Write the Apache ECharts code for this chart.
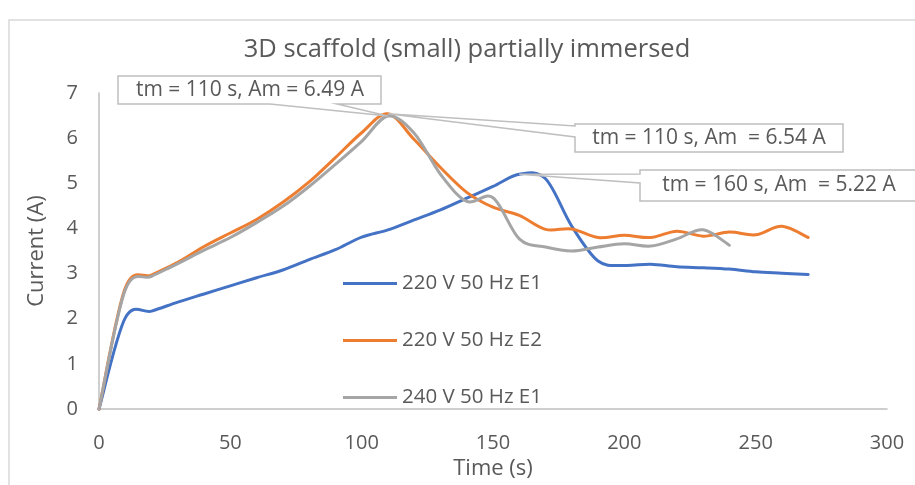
<!DOCTYPE html>
<html><head><meta charset="utf-8">
<script src="https://cdn.jsdelivr.net/npm/echarts@6/dist/echarts.min.js"></script>
<style>html,body{margin:0;padding:0;background:#fff}#c{width:915px;height:485px}</style>
</head><body><div id="c"></div>
<script>
const times = [0,10,20,30,40,50,60,70,80,90,100,110,120,130,140,150,160,170,180,190,200,210,220,230,240,250,260,270];
const seriesNames = ['220 V 50 Hz E1','220 V 50 Hz E2','240 V 50 Hz E1'];
const v220E1 = [0,2.02,2.17,2.37,2.55,2.73,2.91,3.08,3.31,3.53,3.81,3.97,4.19,4.41,4.67,4.93,5.2,5.1,4.05,3.28,3.18,3.21,3.15,3.13,3.1,3.04,3.01,2.98];
const v220E2 = [0,2.68,2.97,3.25,3.6,3.9,4.2,4.58,5.03,5.57,6.12,6.54,5.97,5.35,4.8,4.47,4.29,3.98,3.99,3.8,3.85,3.8,3.94,3.83,3.92,3.86,4.05,3.8];
const v240E1 = [0,2.64,2.94,3.22,3.52,3.8,4.13,4.49,4.93,5.42,5.93,6.49,6.11,5.2,4.6,4.68,3.77,3.59,3.5,3.59,3.66,3.61,3.77,3.97,3.63];
const colors = ['#4472C4','#ED7D31','#A5A5A5'];
const xTicks = {min:0,max:300,interval:50};
const yTicks = {min:0,max:7,interval:1};
const callouts = [
  {text:'tm = 110 s, Am = 6.49 A', series:2, t:110},
  {text:'tm = 110 s, Am  = 6.54 A', series:1, t:110},
  {text:'tm = 160 s, Am  = 5.22 A', series:0, t:160}
];

const FONT = '"Open Sans", "Noto Sans", sans-serif';
const TXT = '#595959';
const allVals = [v220E1, v220E2, v240E1];
const pairs = v => v.map((y,i)=>[times[i], y]);

// smooth curve (Catmull-Rom as bezier), points mapped through the axes via api.coord
function makeRender(vals, color) {
  return function (params, api) {
    if (params.dataIndex !== 0) return null;
    const p = vals.map((y,i)=>api.coord([times[i], y]));
    let d = 'M' + p[0][0] + ' ' + p[0][1];
    for (let i = 0; i < p.length - 1; i++) {
      const p0 = p[Math.max(i-1,0)], p1 = p[i], p2 = p[i+1], p3 = p[Math.min(i+2,p.length-1)];
      const c1 = [p1[0] + (p2[0]-p0[0])/6, p1[1] + (p2[1]-p0[1])/6];
      const c2 = [p2[0] - (p3[0]-p1[0])/6, p2[1] - (p3[1]-p1[1])/6];
      d += ' C' + c1[0] + ' ' + c1[1] + ' ' + c2[0] + ' ' + c2[1] + ' ' + p2[0] + ' ' + p2[1];
    }
    return {type:'path', shape:{pathData:d}, style:{fill:null, stroke:color, lineWidth:3, lineJoin:'round', lineCap:'round'}};
  };
}

const chart = echarts.init(document.getElementById('c'));
const option = {
  animation:false,
  backgroundColor:'#fff',
  grid:{left:99, right:28, top:93, bottom:72, containLabel:false},
  legend:{orient:'vertical', left:338, top:268, itemWidth:54, itemHeight:3, itemGap:36, icon:'rect',
    textStyle:{fontFamily:FONT, fontSize:20.5, color:TXT, lineHeight:20},
    data:seriesNames},
  xAxis:{type:'value', min:xTicks.min, max:xTicks.max, interval:xTicks.interval,
    name:'Time (s)', nameLocation:'middle', nameGap:44,
    nameTextStyle:{fontFamily:FONT, fontSize:22, color:TXT},
    axisLine:{show:true, lineStyle:{color:'#BFBFBF', width:1.5}},
    axisTick:{show:false}, splitLine:{show:false},
    axisLabel:{fontFamily:FONT, fontSize:20, color:TXT, margin:24}},
  yAxis:{type:'value', min:yTicks.min, max:yTicks.max, interval:yTicks.interval,
    name:'Current (A)', nameLocation:'middle', nameGap:51, nameRotate:90,
    nameTextStyle:{fontFamily:FONT, fontSize:22, color:TXT},
    axisLine:{show:true, lineStyle:{color:'#BFBFBF', width:1.5}},
    axisTick:{show:false}, splitLine:{show:false},
    axisLabel:{fontFamily:FONT, fontSize:20, color:TXT, margin:21}},
  series: seriesNames.map((n,i)=>({
    name:n, type:'custom', data:pairs(allVals[i]), renderItem:makeRender(allVals[i], colors[i]),
    encode:{x:0, y:1}, itemStyle:{color:colors[i]}, z:2
  }))
};
chart.setOption(option);

// callouts anchored to data points
const boxes = [
  {x1:118,y1:76,x2:381,y2:104, tail:'bottom', a:270, b:337, cx:250},
  {x1:575,y1:124,x2:843,y2:152, tail:'left', a:126, b:137, cx:709},
  {x1:640,y1:170,x2:925,y2:201, tail:'left', a:174, b:183, cx:779}
];
const g = [
  {type:'rect', shape:{x:9,y:20,width:940,height:500}, style:{fill:'none', stroke:'#D9D9D9', lineWidth:1.5}, silent:true, z:0},
  {type:'text', x:467, y:50, style:{text:'3D scaffold (small) partially immersed', fontFamily:FONT, fontSize:25.5, fill:TXT, align:'center', verticalAlign:'middle'}, z:5}
];
callouts.forEach((c,k)=>{
  const idx = times.indexOf(c.t);
  const tip = chart.convertToPixel({gridIndex:0}, [c.t, allVals[c.series][idx]]);
  const b = boxes[k];
  let pts;
  if (b.tail==='bottom') {
    pts = [[b.x1,b.y1],[b.x2,b.y1],[b.x2,b.y2],[b.b,b.y2],tip,[b.a,b.y2],[b.x1,b.y2]];
  } else {
    pts = [[b.x1,b.y1],[b.x2,b.y1],[b.x2,b.y2],[b.x1,b.y2],[b.x1,b.b],tip,[b.x1,b.a]];
  }
  g.push({type:'polygon', shape:{points:pts}, style:{fill:'#fff', stroke:'#BFBFBF', lineWidth:1.5}, z:10});
  g.push({type:'text', x:b.cx, y:(b.y1+b.y2)/2,
    style:{text:c.text, fontFamily:FONT, fontSize:21, fill:TXT, align:'center', verticalAlign:'middle'}, z:11});
});
chart.setOption({graphic:g});
</script></body></html>
